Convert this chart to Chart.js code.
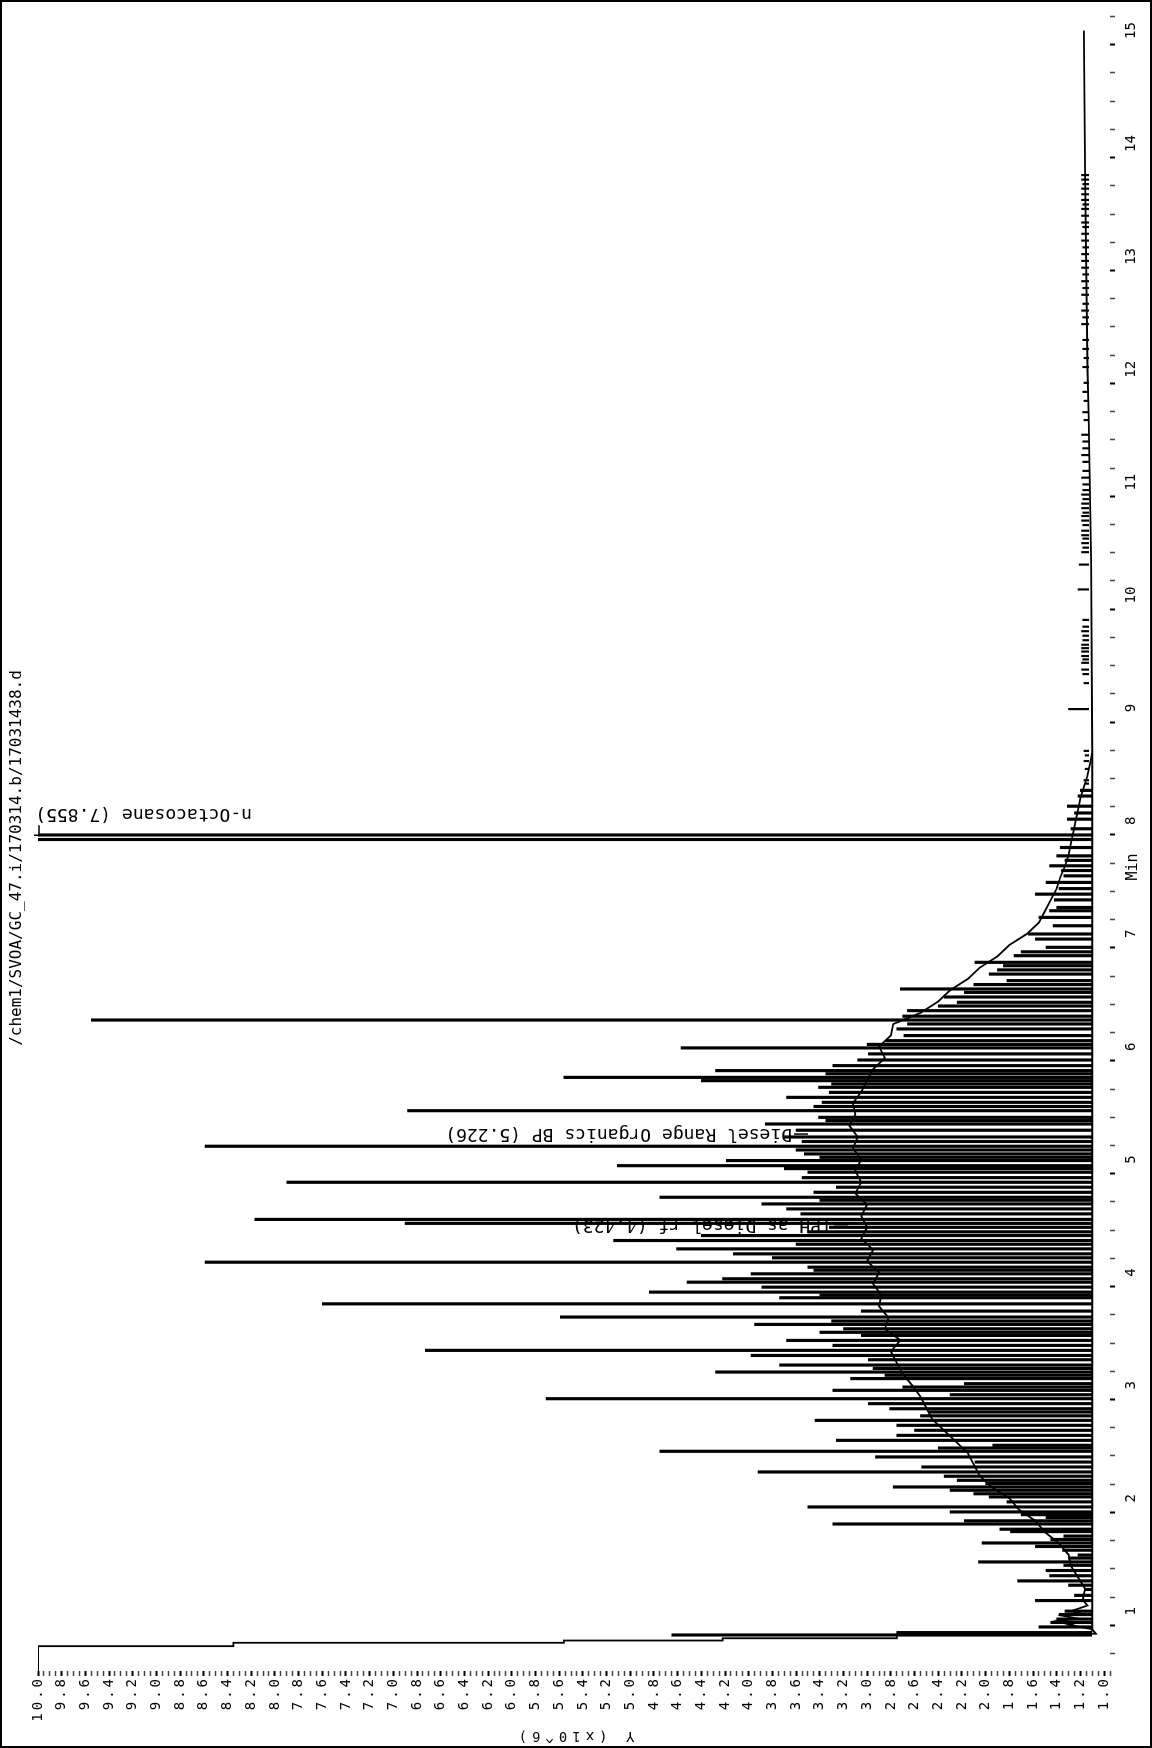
<!DOCTYPE html>
<html>
<head>
<meta charset="utf-8">
<script src="https://cdn.jsdelivr.net/npm/chart.js@4.4.1/dist/chart.umd.min.js"></script>
<style>
html, body { margin: 0; padding: 0; background: #fff; }
#page { position: relative; width: 1152px; height: 1748px; overflow: hidden; }
/* the report is printed sideways, so the chart is drawn landscape and turned */
#wrap { position: absolute; left: 0; top: 0; width: 1748px; height: 1152px;
        transform-origin: 0 0; transform: translate(0, 1748px) rotate(-90deg); }
</style>
</head>
<body>
<div id="page"><div id="wrap"><canvas id="gc" width="1748" height="1152"></canvas></div></div>
<script>
var fileName = "/chem1/SVOA/GC_47.i/170314.b/17031438.d";

// signal trace: solvent front, unresolved hump, then baseline (time min, signal x10^6)
var traceTimes = [0.47, 0.69, 0.69, 0.72, 0.72, 0.74, 0.74, 0.76, 0.76, 0.80,
  0.80, 0.84, 0.88, 0.90, 0.92, 0.94, 0.96, 0.98, 1.00, 1.05,
  1.10, 1.20, 1.30, 1.40, 1.50, 1.60, 1.70, 1.80, 1.90, 2.00,
  2.10, 2.20, 2.30, 2.40, 2.50, 2.60, 2.70, 2.80, 2.90, 3.00,
  3.10, 3.20, 3.30, 3.40, 3.50, 3.60, 3.70, 3.80, 3.90, 4.00,
  4.10, 4.20, 4.30, 4.40, 4.50, 4.60, 4.70, 4.80, 4.90, 5.00,
  5.10, 5.20, 5.30, 5.40, 5.50, 5.60, 5.70, 5.80, 5.90, 6.00,
  6.10, 6.20, 6.30, 6.40, 6.50, 6.60, 6.70, 6.80, 6.90, 7.00,
  7.10, 7.20, 7.30, 7.40, 7.50, 7.60, 7.70, 7.80, 7.90, 8.00,
  8.10, 8.20, 8.30, 8.40, 8.50, 8.60, 10.3, 11.6, 12.0, 13.7, 15.0];
var traceValues = [10.0, 10.0, 8.35, 8.35, 5.56, 5.56, 4.22, 4.22, 2.75, 2.75,
  1.07, 1.10, 1.30, 1.22, 1.38, 1.25, 1.35, 1.20, 1.28, 1.14,
  1.18, 1.16, 1.22, 1.28, 1.30, 1.38, 1.50, 1.58, 1.72, 1.80,
  1.95, 2.05, 2.10, 2.15, 2.25, 2.35, 2.45, 2.50, 2.55, 2.62,
  2.70, 2.75, 2.80, 2.72, 2.85, 2.82, 2.90, 2.88, 2.95, 2.90,
  3.00, 2.95, 3.05, 3.00, 3.05, 3.00, 3.10, 3.05, 3.10, 3.05,
  3.12, 3.08, 3.15, 3.10, 3.12, 3.05, 3.00, 2.95, 2.85, 2.90,
  2.80, 2.78, 2.55, 2.40, 2.30, 2.15, 2.05, 1.90, 1.80, 1.65,
  1.55, 1.50, 1.45, 1.40, 1.37, 1.33, 1.30, 1.28, 1.26, 1.24,
  1.22, 1.20, 1.17, 1.14, 1.12, 1.10, 1.11, 1.13, 1.14, 1.16, 1.17];

var baseTimes = [0.82, 8.6];
var baseValues = [1.10, 1.10];

// resolved peaks (apex time, apex signal)
var peakTimes = [0.789, 0.81, 0.86, 0.90, 0.93, 0.97, 1.00, 1.094, 1.14, 1.192,
  1.23, 1.268, 1.314, 1.36, 1.406, 1.436, 1.47, 1.497, 1.54, 1.573,
  1.604, 1.635, 1.665, 1.705, 1.726, 1.772, 1.80, 1.83, 1.855, 1.879,
  1.923, 1.968, 2.012, 2.04, 2.071, 2.10, 2.13, 2.159, 2.195, 2.233,
  2.277, 2.321, 2.366, 2.416, 2.445, 2.469, 2.513, 2.557, 2.602, 2.646,
  2.69, 2.73, 2.764, 2.793, 2.838, 2.882, 2.917, 2.956, 2.985, 3.015,
  3.06, 3.09, 3.118, 3.15, 3.18, 3.227, 3.265, 3.31, 3.354, 3.398,
  3.442, 3.47, 3.501, 3.54, 3.57, 3.605, 3.658, 3.722, 3.776, 3.80,
  3.826, 3.87, 3.914, 3.944, 3.988, 4.02, 4.047, 4.091, 4.13, 4.165,
  4.209, 4.25, 4.283, 4.327, 4.36, 4.40, 4.435, 4.47, 4.519, 4.563,
  4.607, 4.64, 4.666, 4.71, 4.755, 4.799, 4.84, 4.888, 4.92, 4.946,
  4.991, 5.02, 5.05, 5.085, 5.118, 5.16, 5.20, 5.26, 5.315, 5.345,
  5.374, 5.433, 5.47, 5.507, 5.551, 5.595, 5.64, 5.67, 5.699, 5.728,
  5.76, 5.788, 5.832, 5.882, 5.936, 5.989, 6.02, 6.053, 6.098, 6.157,
  6.201, 6.236, 6.27, 6.319, 6.36, 6.393, 6.44, 6.481, 6.511, 6.55,
  6.585, 6.643, 6.68, 6.717, 6.747, 6.806, 6.84, 6.88, 6.953, 6.998,
  7.071, 7.145, 7.204, 7.233, 7.30, 7.351, 7.40, 7.455, 7.513, 7.56,
  7.602, 7.65, 7.69, 7.764, 7.835, 7.875, 7.93, 8.015, 8.07, 8.13,
  8.22, 8.27];
var peakHeights = [4.65, 2.75, 1.55, 1.45, 1.40, 1.38, 1.33, 1.58, 1.25, 1.16,
  1.30, 1.73, 1.46, 1.49, 1.34, 2.06, 1.30, 1.22, 1.35, 1.58,
  2.03, 1.45, 1.34, 1.79, 1.88, 3.29, 2.18, 1.49, 1.70, 2.30,
  3.50, 1.82, 1.97, 2.10, 2.30, 2.78, 2.00, 2.24, 2.35, 3.92,
  2.54, 2.09, 2.93, 4.75, 2.40, 1.94, 3.26, 2.75, 2.60, 2.75,
  3.44, 2.55, 2.48, 2.81, 2.99, 5.71, 2.30, 3.29, 2.70, 2.18,
  3.14, 2.85, 4.28, 2.95, 3.74, 2.99, 3.98, 6.73, 3.29, 3.68,
  3.05, 3.40, 3.20, 3.95, 3.30, 5.59, 3.05, 7.60, 3.74, 3.40,
  4.84, 3.89, 4.52, 4.22, 3.98, 3.45, 3.50, 8.59, 3.80, 4.13,
  4.61, 3.60, 5.14, 4.40, 3.50, 3.32, 6.90, 8.17, 3.56, 3.68,
  3.89, 3.40, 4.75, 3.45, 3.26, 7.90, 3.55, 3.50, 3.70, 5.11,
  4.19, 3.40, 3.53, 3.60, 8.59, 3.55, 3.70, 3.60, 3.86, 3.35,
  3.41, 6.88, 3.45, 3.38, 3.68, 3.32, 3.41, 3.30, 4.40, 5.56,
  3.35, 4.28, 3.29, 3.08, 2.99, 4.57, 3.00, 2.84, 2.69, 2.75,
  2.66, 9.55, 2.70, 2.66, 2.40, 2.24, 2.35, 2.18, 2.72, 2.10,
  1.82, 1.97, 1.90, 1.85, 2.09, 1.76, 1.70, 1.49, 1.58, 1.64,
  1.43, 1.55, 1.46, 1.40, 1.42, 1.58, 1.38, 1.49, 1.34, 1.36,
  1.46, 1.33, 1.40, 1.37, 10.0, 10.0, 1.28, 1.31, 1.25, 1.31,
  1.22, 1.20];

// small late eluters on the flat baseline
var lateTimes = [8.33, 8.36, 8.46, 8.53, 8.58, 8.62, 8.99, 9.22, 9.30, 9.34,
  9.40, 9.43, 9.46, 9.50, 9.53, 9.56, 9.60, 9.64, 9.68, 9.72,
  9.78, 10.05, 10.27, 10.38, 10.42, 10.46, 10.50, 10.53, 10.57, 10.62,
  10.66, 10.70, 10.73, 10.77, 10.81, 10.85, 10.89, 10.93, 10.98, 11.04,
  11.10, 11.18, 11.24, 11.30, 11.36, 11.42, 11.55, 11.62, 11.72, 11.80,
  11.88, 12.02, 12.10, 12.18, 12.26, 12.40, 12.46, 12.52, 12.58, 12.66,
  12.72, 12.78, 12.84, 12.90, 12.96, 13.02, 13.08, 13.14, 13.20, 13.26,
  13.30, 13.36, 13.42, 13.46, 13.50, 13.55, 13.60, 13.64, 13.68, 13.72];
var lateHeights = [1.16, 1.17, 1.16, 1.17, 1.16, 1.17, 1.30, 1.17, 1.18, 1.19,
  1.19, 1.18, 1.19, 1.19, 1.19, 1.19, 1.18, 1.18, 1.19, 1.18,
  1.18, 1.22, 1.21, 1.19, 1.18, 1.19, 1.18, 1.19, 1.19, 1.18,
  1.19, 1.19, 1.18, 1.19, 1.19, 1.18, 1.19, 1.18, 1.18, 1.19,
  1.18, 1.18, 1.19, 1.18, 1.18, 1.19, 1.17, 1.18, 1.17, 1.18,
  1.17, 1.18, 1.17, 1.18, 1.18, 1.19, 1.18, 1.19, 1.18, 1.19,
  1.18, 1.19, 1.18, 1.19, 1.19, 1.19, 1.18, 1.19, 1.19, 1.18,
  1.19, 1.19, 1.19, 1.18, 1.19, 1.19, 1.19, 1.18, 1.19, 1.19];

var labelTimes = [4.423, 5.226, 7.855];
var labelNames = ["TPH as Diesel rf (4.423)", "Diesel Range Organics BP (5.226)", "n-Octacosane (7.855)"];

var mono = "'DejaVu Sans Mono', 'Liberation Mono', monospace";

function pts(xs, ys) {
  return xs.map(function (x, i) { return { x: x, y: ys[i] }; });
}
function isMajor(v, step) {
  return Math.abs(v / step - Math.round(v / step)) < 1e-6;
}
function tickMajor(c, step) {
  return !!(c && c.tick && isMajor(c.tick.value, step));
}

// frame, file name, "Min" and the peak names
var notes = {
  id: "notes",
  afterDraw: function (chart) {
    var ctx = chart.ctx;
    var xs = chart.scales.x;
    ctx.save();
    ctx.strokeStyle = "#000";
    ctx.fillStyle = "#000";
    ctx.lineWidth = 2;
    ctx.strokeRect(1, 1, chart.width - 2, chart.height - 2);

    ctx.textBaseline = "middle";
    ctx.textAlign = "center";
    ctx.font = "16px " + mono;
    ctx.fillText(fileName, 890, 17);
    ctx.font = "15px " + mono;
    ctx.fillText("Min", 881, 1133);

    var starts = [848, 808, 252];
    var shift = [0, 0, 24];
    ctx.font = "18px " + mono;
    ctx.textAlign = "left";
    ctx.lineWidth = 1.5;
    for (var i = 0; i < labelTimes.length; i++) {
      var px = xs.getPixelForValue(labelTimes[i]) + shift[i];
      var py = starts[i];
      if (i < 2) {
        ctx.beginPath();
        ctx.moveTo(px, py);
        ctx.lineTo(px, py - 14);
        ctx.stroke();
        py -= 16;
      } else {
        var xp = xs.getPixelForValue(labelTimes[i]);
        ctx.beginPath();
        ctx.moveTo(xp + 2, 39); ctx.lineTo(xp + 12, 39);
        ctx.moveTo(xp + 2, 34); ctx.lineTo(xp + 2, 44);
        ctx.stroke();
      }
      ctx.save();
      ctx.translate(px, py);
      ctx.rotate(-Math.PI / 2);
      ctx.fillText(labelNames[i], 0, 0);
      ctx.restore();
    }
    ctx.restore();
  }
};

var chart = new Chart(document.getElementById("gc"), {
  type: "scatter",
  data: {
    datasets: [
      { type: "line", data: pts(traceTimes, traceValues), borderColor: "#000", borderWidth: 1.8,
        pointRadius: 0, tension: 0, fill: false },
      { type: "line", data: pts(baseTimes, baseValues), borderColor: "#000", borderWidth: 2,
        pointRadius: 0, fill: false },
      { type: "bar", data: pts(peakTimes, peakHeights), base: 1.10, backgroundColor: "#000",
        barThickness: 2.5, grouped: false, borderWidth: 0 },
      { type: "bar", data: pts(lateTimes, lateHeights), base: 1.13, backgroundColor: "#000",
        barThickness: 1.5, grouped: false, borderWidth: 0 }
    ]
  },
  options: {
    responsive: false,
    devicePixelRatio: 1,
    animation: false,
    layout: { padding: { top: 38, right: 8, left: 0, bottom: 0 } },
    plugins: { legend: { display: false }, tooltip: { enabled: false } },
    scales: {
      x: {
        type: "linear", min: 0.47, max: 15.2, offset: false,
        afterFit: function (s) { s.height = 42; },
        border: { display: false },
        grid: { drawOnChartArea: false, tickLength: 5,
          tickColor: function (c) { return tickMajor(c, 1) ? "#000" : "#444"; },
          tickWidth: function (c) { return tickMajor(c, 1) ? 2 : 1.5; } },
        ticks: { stepSize: 0.25, autoSkip: false, includeBounds: false, maxRotation: 0,
          padding: 8, color: "#000", font: { family: mono, size: 14 },
          callback: function (v) { return isMajor(v, 1) ? String(Math.round(v)) : ""; } }
      },
      y: {
        type: "linear", min: 0.95, max: 10,
        afterFit: function (s) { s.width = 77; },
        border: { display: false },
        grid: { drawOnChartArea: false, tickLength: 5,
          tickColor: function (c) { return tickMajor(c, 0.2) ? "#000" : "#444"; },
          tickWidth: function (c) { return tickMajor(c, 0.2) ? 2 : 1.5; } },
        ticks: { stepSize: 0.05, autoSkip: false, includeBounds: false, padding: 0,
          color: "#000", font: { family: mono, size: 14 },
          callback: function (v) { return isMajor(v, 0.2) ? v.toFixed(1) : ""; } },
        title: { display: true, text: "Y (x10^6)", color: "#000",
          font: { family: mono, size: 14 }, padding: { top: 4, bottom: 0 } }
      }
    }
  },
  plugins: [notes]
});

// the printout spaces the value-axis text out wider than the font does
function spaceOut(scale, name, px) {
  var orig = scale[name];
  scale[name] = function (a) {
    this.ctx.save();
    this.ctx.letterSpacing = px;
    orig.call(this, a);
    this.ctx.restore();
  };
}
spaceOut(chart.scales.y, "drawLabels", "3px");
spaceOut(chart.scales.y, "drawTitle", "5px");
chart.draw();
</script>
</body>
</html>
